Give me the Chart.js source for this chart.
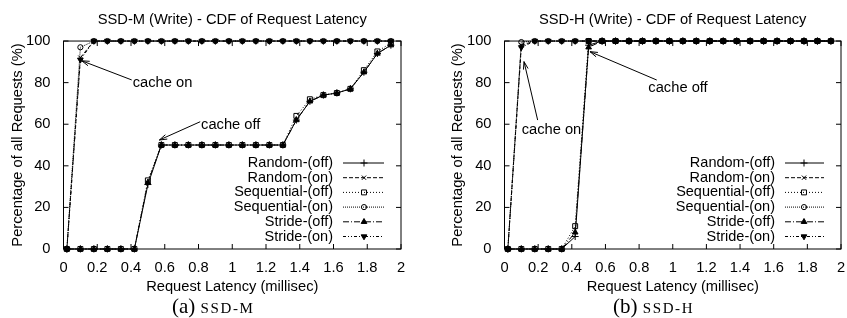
<!DOCTYPE html>
<html>
<head>
<meta charset="utf-8">
<script src="https://cdn.jsdelivr.net/npm/chart.js@4.4.1/dist/chart.umd.min.js"></script>
<style>
  body { margin: 0; background: #fff; }
  #wrap { position: relative; width: 847px; height: 318px; overflow: hidden; }
  canvas { position: absolute; top: 0; }
  .cap { position: absolute; top: 296px; line-height: 20px; font-family: "Liberation Serif", "DejaVu Serif", serif; font-size: 21px; color: #000; white-space: nowrap; }
  .cap .sc { font-size: 15px; letter-spacing: 1.6px; }
</style>
</head>
<body>
<div id="wrap">
  <canvas id="chartM" width="423" height="318" style="left:0"></canvas>
  <canvas id="chartH" width="424" height="318" style="left:423px"></canvas>
  <div class="cap" style="left:172px">(a) <span class="sc">SSD-M</span></div>
  <div class="cap" style="left:613px">(b) <span class="sc">SSD-H</span></div>
</div>
<script>
// request latency (ms) of each sample point
const latency = [0.02, 0.10, 0.18, 0.26, 0.34, 0.42, 0.50, 0.58, 0.66, 0.74, 0.82, 0.90, 0.98,
                 1.06, 1.14, 1.22, 1.30, 1.38, 1.46, 1.54, 1.62, 1.70, 1.78, 1.86, 1.94];

const seriesNames = ['Random-(off)', 'Random-(on)', 'Sequential-(off)', 'Sequential-(on)', 'Stride-(off)', 'Stride-(on)'];

// SSD-M (Write), percentage of requests
const randomOffM     = [0, 0, 0, 0, 0, 0, 31, 50, 50, 50, 50, 50, 50, 50, 50, 50, 50, 62, 71, 74, 75, 77, 85, 94, 98];
const randomOnM      = [0, 92, 100, 100, 100, 100, 100, 100, 100, 100, 100, 100, 100, 100, 100, 100, 100, 100, 100, 100, 100, 100, 100, 100, 100];
const sequentialOffM = [0, 0, 0, 0, 0, 0, 33, 50, 50, 50, 50, 50, 50, 50, 50, 50, 50, 64, 72, 74, 75, 77, 86, 95, 99];
const sequentialOnM  = [0, 97, 100, 100, 100, 100, 100, 100, 100, 100, 100, 100, 100, 100, 100, 100, 100, 100, 100, 100, 100, 100, 100, 100, 100];
const strideOffM     = [0, 0, 0, 0, 0, 0, 32, 50, 50, 50, 50, 50, 50, 50, 50, 50, 50, 62, 71, 74, 75, 77, 85, 94, 98];
const strideOnM      = [0, 91, 100, 100, 100, 100, 100, 100, 100, 100, 100, 100, 100, 100, 100, 100, 100, 100, 100, 100, 100, 100, 100, 100, 100];

// SSD-H (Write)
const randomOffH     = [0, 0, 0, 0, 0, 6, 98, 100, 100, 100, 100, 100, 100, 100, 100, 100, 100, 100, 100, 100, 100, 100, 100, 100, 100];
const randomOnH      = [0, 98, 100, 100, 100, 100, 100, 100, 100, 100, 100, 100, 100, 100, 100, 100, 100, 100, 100, 100, 100, 100, 100, 100, 100];
const sequentialOffH = [0, 0, 0, 0, 0, 11, 100, 100, 100, 100, 100, 100, 100, 100, 100, 100, 100, 100, 100, 100, 100, 100, 100, 100, 100];
const sequentialOnH  = [0, 99.5, 100, 100, 100, 100, 100, 100, 100, 100, 100, 100, 100, 100, 100, 100, 100, 100, 100, 100, 100, 100, 100, 100, 100];
const strideOffH     = [0, 0, 0, 0, 0, 8, 97, 100, 100, 100, 100, 100, 100, 100, 100, 100, 100, 100, 100, 100, 100, 100, 100, 100, 100];
const strideOnH      = [0, 97, 100, 100, 100, 100, 100, 100, 100, 100, 100, 100, 100, 100, 100, 100, 100, 100, 100, 100, 100, 100, 100, 100, 100];

const xTicks = [0, 0.2, 0.4, 0.6, 0.8, 1, 1.2, 1.4, 1.6, 1.8, 2];
const yTicks = [0, 20, 40, 60, 80, 100];

// arrow labels, in data units
const notesM = [
  { text: 'cache on',  at: [0.41, 80],   from: [0.404, 81.3], to: [0.108, 90.5] },
  { text: 'cache off', at: [0.815, 59.6], from: [0.81, 61.2],  to: [0.568, 52.4] }
];
const notesH = [
  { text: 'cache on',  at: [0.102, 57.2], from: [0.197, 62],   to: [0.116, 90.1] },
  { text: 'cache off', at: [0.855, 77.3], from: [0.905, 81.25], to: [0.508, 94.9] }
];

const FONT = '"Liberation Sans", Arial, sans-serif';

// look of each series (gnuplot-like)
const looks = [
  { dash: [],                 pointStyle: 'cross',    radius: 3.5, fill: false },
  { dash: [4, 2],             pointStyle: 'crossRot', radius: 3,   fill: false },
  { dash: [1, 2],             pointStyle: 'rect',     radius: 3.5, fill: false },
  { dash: [1, 1],             pointStyle: 'circle',   radius: 2.6, fill: false },
  { dash: [6, 2, 1, 2],       pointStyle: 'triangle', radius: 3.3, fill: true },
  { dash: [3, 2, 1, 2, 1, 2], pointStyle: 'triangle', radius: 3.3, fill: true, rotation: 180 }
];

function makeDatasets(seriesList) {
  return seriesList.map((vals, i) => ({
    label: seriesNames[i],
    data: latency.map((x, j) => ({ x: x, y: vals[j] })),
    borderColor: '#000',
    borderWidth: 1,
    borderDash: looks[i].dash,
    pointStyle: looks[i].pointStyle,
    pointRotation: looks[i].rotation || 0,
    pointRadius: looks[i].radius,
    pointBorderWidth: 1,
    pointBorderColor: '#000',
    pointBackgroundColor: looks[i].fill ? '#000' : 'rgba(0,0,0,0)',
    tension: 0,
    clip: false
  }));
}

// frame with inward ticks, legend inside the plot and arrow labels
const gnuplotBits = {
  id: 'gnuplotBits',
  afterDatasetsDraw(chart, args, opts) {
    const { ctx, chartArea: a, scales } = chart;
    const xs = scales.x, ys = scales.y;
    ctx.save();
    ctx.strokeStyle = '#000';
    ctx.fillStyle = '#000';
    ctx.lineWidth = 1;
    ctx.setLineDash([]);
    ctx.strokeRect(a.left, a.top, a.right - a.left, a.bottom - a.top);
    ctx.beginPath();
    xTicks.forEach(v => {
      const px = xs.getPixelForValue(v);
      ctx.moveTo(px, a.bottom); ctx.lineTo(px, a.bottom - 5);
      ctx.moveTo(px, a.top); ctx.lineTo(px, a.top + 5);
    });
    yTicks.forEach(v => {
      const py = ys.getPixelForValue(v);
      ctx.moveTo(a.left, py); ctx.lineTo(a.left + 5, py);
      ctx.moveTo(a.right, py); ctx.lineTo(a.right - 5, py);
    });
    ctx.stroke();

    // legend
    ctx.font = '14.5px ' + FONT;
    ctx.textAlign = 'right';
    ctx.textBaseline = 'middle';
    chart.data.datasets.forEach((ds, i) => {
      const y = a.bottom - 12.5 - (5 - i) * 14.7;
      ctx.fillText(ds.label, a.right - opts.textGap, y);
      ctx.setLineDash(ds.borderDash);
      ctx.beginPath();
      ctx.moveTo(a.right - opts.textGap + 10, y);
      ctx.lineTo(a.right - 17, y);
      ctx.stroke();
      ctx.setLineDash([]);
      ctx.fillStyle = ds.pointBackgroundColor;
      Chart.helpers.drawPoint(ctx, {
        pointStyle: ds.pointStyle, rotation: ds.pointRotation,
        radius: ds.pointRadius, borderWidth: 1
      }, a.right - 37, y);
      ctx.fillStyle = '#000';
    });

    // arrows with labels
    ctx.textAlign = 'left';
    ctx.font = '14.7px ' + FONT;
    opts.notes.forEach(n => {
      ctx.fillText(n.text, xs.getPixelForValue(n.at[0]), ys.getPixelForValue(n.at[1]));
      const x1 = xs.getPixelForValue(n.from[0]), y1 = ys.getPixelForValue(n.from[1]);
      const x2 = xs.getPixelForValue(n.to[0]), y2 = ys.getPixelForValue(n.to[1]);
      const ang = Math.atan2(y2 - y1, x2 - x1);
      ctx.beginPath();
      ctx.moveTo(x1, y1); ctx.lineTo(x2, y2);
      ctx.moveTo(x2 - 8 * Math.cos(ang - 0.3), y2 - 8 * Math.sin(ang - 0.3));
      ctx.lineTo(x2, y2);
      ctx.lineTo(x2 - 8 * Math.cos(ang + 0.3), y2 - 8 * Math.sin(ang + 0.3));
      ctx.stroke();
    });
    ctx.restore();
  }
};

function makeChart(id, title, seriesList, notes, cfg) {
  return new Chart(document.getElementById(id), {
    type: 'line',
    data: { datasets: makeDatasets(seriesList) },
    plugins: [gnuplotBits],
    options: {
      responsive: false,
      animation: false,
      layout: { padding: { left: 0, right: cfg.padRight, top: 0, bottom: 22 } },
      plugins: {
        legend: { display: false },
        tooltip: { enabled: false },
        title: {
          display: true,
          fullSize: false,
          text: title,
          color: '#000',
          font: { family: FONT, size: 14.7, weight: 'normal' },
          padding: { top: 11.6, bottom: 11.8 }
        },
        gnuplotBits: { notes: notes, textGap: cfg.textGap }
      },
      scales: {
        x: {
          type: 'linear', min: 0, max: 2,
          afterBuildTicks: s => { s.ticks = xTicks.map(v => ({ value: v })); },
          afterFit: s => { s.height = 47; s.paddingLeft = 0; s.paddingRight = 0; },
          grid: { display: false },
          border: { display: false },
          ticks: {
            color: '#000', padding: 2, maxRotation: 0, autoSkip: false,
            font: { family: FONT, size: 14.7 },
            callback: v => String(Math.round(v * 10) / 10)
          },
          title: {
            display: true, text: 'Request Latency (millisec)', color: '#000',
            font: { family: FONT, size: 14.7 }, padding: { top: 0, bottom: 0 }
          }
        },
        y: {
          min: 0, max: 100,
          afterBuildTicks: s => { s.ticks = yTicks.map(v => ({ value: v })); },
          afterFit: s => { s.width = cfg.yWidth; },
          grid: { display: false },
          border: { display: false },
          ticks: { color: '#000', padding: 5, font: { family: FONT, size: 14.7 } },
          title: {
            display: true, text: 'Percentage of all Requests (%)', color: '#000',
            font: { family: FONT, size: 14.7 }, padding: { top: cfg.yTitlePad, bottom: 0 }
          }
        }
      }
    }
  });
}

makeChart('chartM', 'SSD-M (Write) - CDF of Request Latency',
  [randomOffM, randomOnM, sequentialOffM, sequentialOnM, strideOffM, strideOnM], notesM,
  { padRight: 22, yWidth: 63.5, yTitlePad: 8.7, textGap: 68 });

makeChart('chartH', 'SSD-H (Write) - CDF of Request Latency',
  [randomOffH, randomOnH, sequentialOffH, sequentialOnH, strideOffH, strideOnH], notesH,
  { padRight: 6, yWidth: 81.5, yTitlePad: 26.2, textGap: 66 });
</script>
</body>
</html>
